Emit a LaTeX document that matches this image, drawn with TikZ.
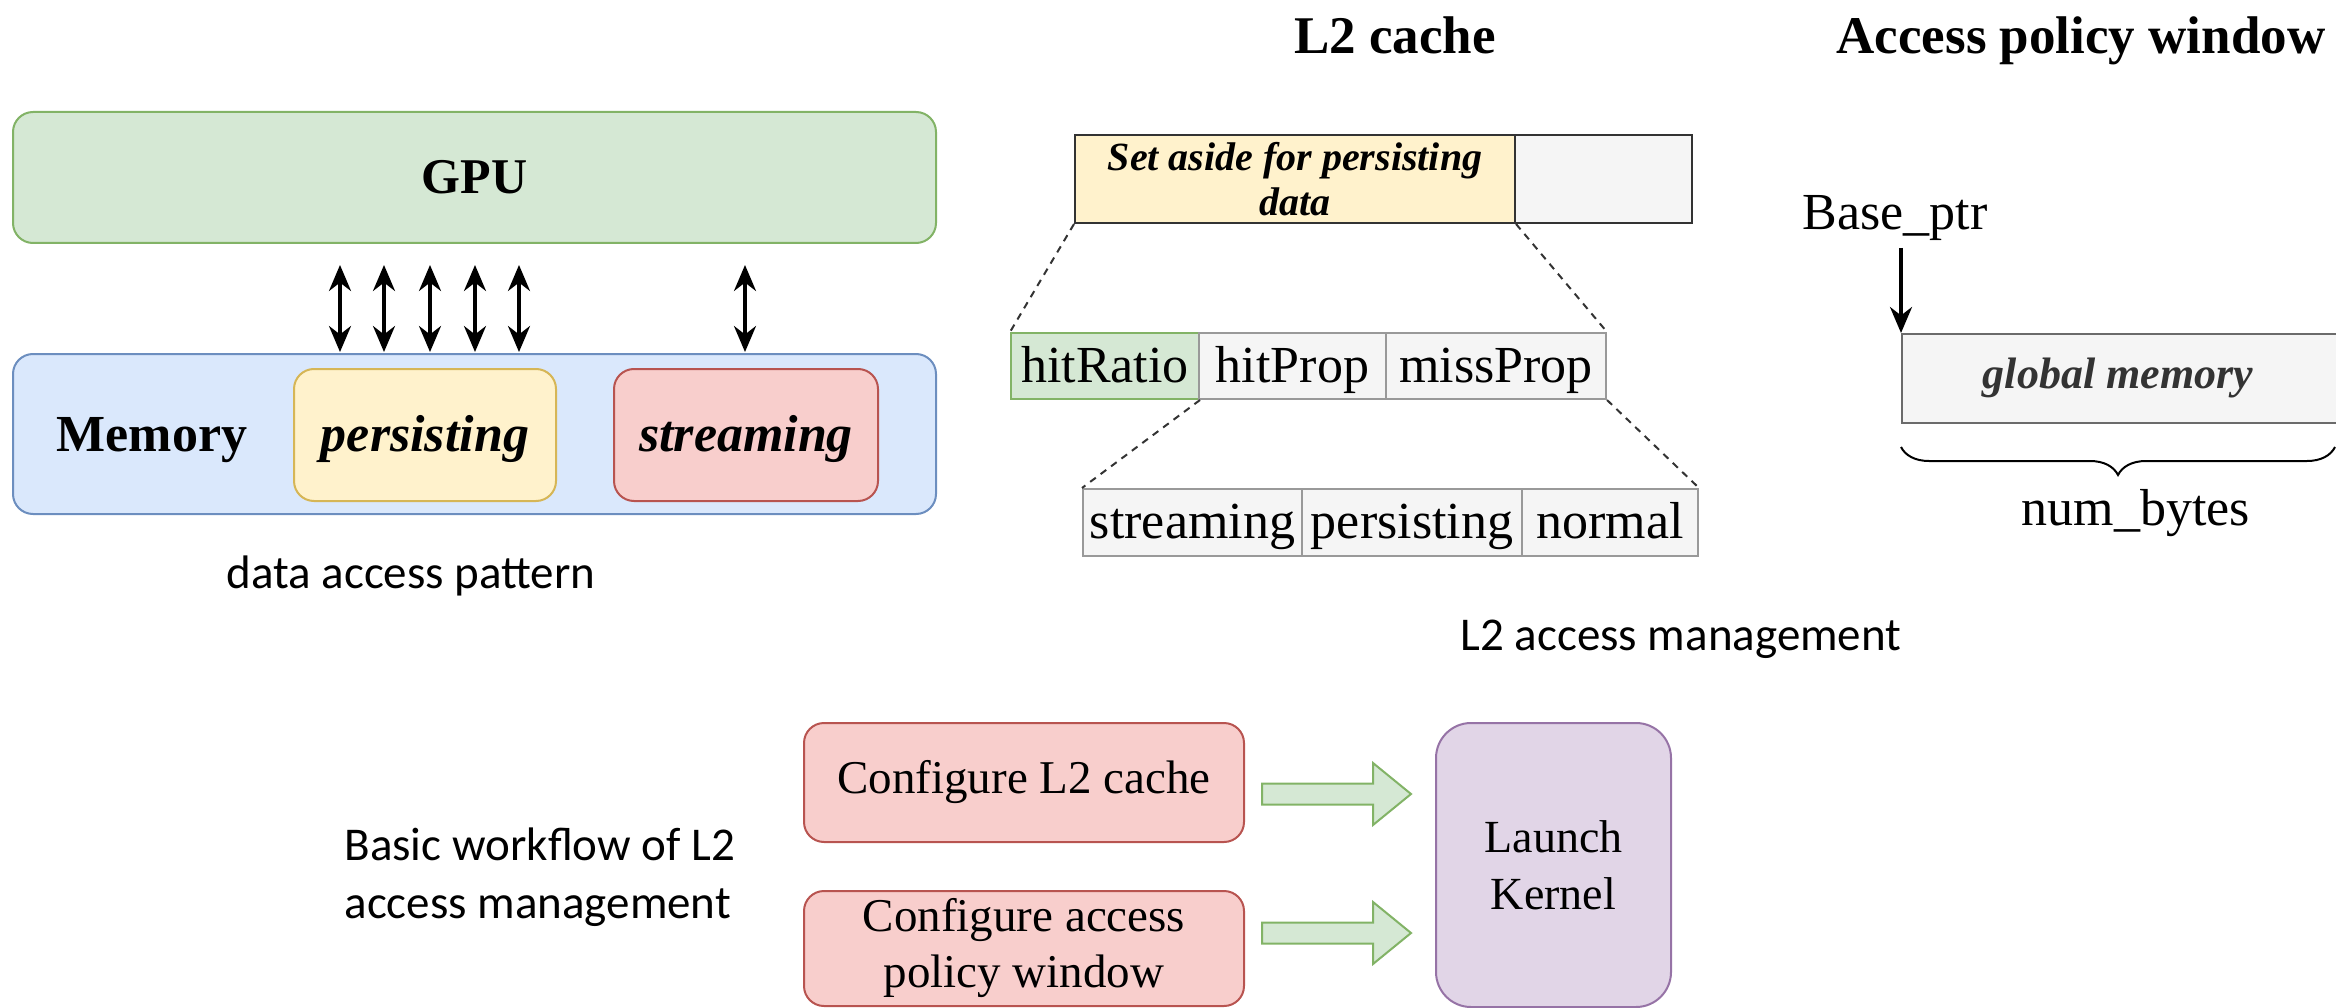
\documentclass[tikz,border=0pt]{standalone}
\usepackage{fontspec}
\setmainfont{Liberation Serif}
\newfontfamily\calibrifont{Carlito}
\usetikzlibrary{arrows.meta,decorations.pathreplacing,calc}
\definecolor{gpuFill}{HTML}{D5E8D4}\definecolor{gpuLine}{HTML}{82B366}
\definecolor{memFill}{HTML}{DAE8FC}\definecolor{memLine}{HTML}{6C8EBF}
\definecolor{yelFill}{HTML}{FFF2CC}\definecolor{yelLine}{HTML}{D6B656}
\definecolor{redFill}{HTML}{F8CECC}\definecolor{redLine}{HTML}{B85450}
\definecolor{purFill}{HTML}{E1D5E7}\definecolor{purLine}{HTML}{9673A6}
\definecolor{greyFill}{HTML}{F5F5F5}\definecolor{greyLine}{HTML}{999999}
\definecolor{darkLine}{HTML}{333333}
\begin{document}
\begin{tikzpicture}[x=1pt,y=-1pt,
  rbox/.style={draw, line width=2pt, rounded corners=20pt, inner sep=0pt, align=center},
  pbox/.style={draw, line width=2pt, rounded corners=20pt, inner sep=0pt,
    font=\bfseries\itshape\fontsize{52}{60}\selectfont, text height=32pt, text depth=0pt},
  cell/.style={draw=greyLine, fill=greyFill, line width=2pt, inner sep=0pt,
    font=\fontsize{52}{60}\selectfont, text height=32pt, text depth=0pt},
  dbl/.style={line width=3.5pt, {Stealth[length=26pt,width=22pt]}-{Stealth[length=26pt,width=22pt]}},
  dsh/.style={line width=2pt, draw=darkLine, dash pattern=on 7pt off 6pt},
  bigbold/.style={font=\bfseries\fontsize{53}{60}\selectfont},
  plain/.style={font=\fontsize{52}{60}\selectfont},
  caption/.style={font=\calibrifont\fontsize{47}{58}\selectfont},
  blockarrow/.style={draw=gpuLine, fill=gpuFill, line width=2pt, line join=miter}
]
\path[use as bounding box, clip] (0,0) rectangle (2336,1008);

% ---------------- data access pattern ----------------
\node[rbox, fill=gpuFill, draw=gpuLine, minimum width=923pt, minimum height=131pt,
      font=\bfseries\fontsize{50}{60}\selectfont] (gpu) at (474.5,177.5) {GPU};
\node[rbox, fill=memFill, draw=memLine, minimum width=923pt, minimum height=160pt] (mem) at (474.5,434) {};
\node[font=\bfseries\fontsize{52}{60}\selectfont, anchor=base] (memlabel) at (152,451) {Memory};
\node[pbox, fill=yelFill, draw=yelLine, minimum width=262pt, minimum height=132pt] (pers) at (425,435) {persisting};
\node[pbox, fill=redFill, draw=redLine, minimum width=264pt, minimum height=132pt] (strm) at (746,435) {streaming};
\foreach \i/\x in {1/340,2/384,3/430,4/475,5/519,6/745}{
  \coordinate (at\i) at (\x,265);
  \coordinate (ab\i) at (\x,352);
  \draw[dbl] (at\i) -- (ab\i);
}
\node[caption, anchor=base] (dap) at (411,588) {data access pattern};

% ---------------- L2 cache ----------------
\node[bigbold, anchor=base] (l2title) at (1395,54) {L2 cache};
\node[draw=darkLine, fill=yelFill, line width=2pt, inner sep=0pt, align=center,
      minimum width=440pt, minimum height=88pt,
      font=\bfseries\itshape\fontsize{40}{45}\selectfont] (setaside) at (1295,179) {Set aside for persisting\\data};
\node[draw=darkLine, fill=greyFill, line width=2pt, minimum width=177pt, minimum height=88pt] (rest) at (1603.5,179) {};

\node[cell, fill=gpuFill, draw=gpuLine, minimum width=188pt, minimum height=66pt] (hitratio) at (1105,366) {hitRatio};
\node[cell, minimum width=187pt, minimum height=66pt] (hitprop) at (1292.5,366) {hitProp};
\node[cell, minimum width=220pt, minimum height=66pt] (missprop) at (1496,366) {missProp};

\node[cell, minimum width=219pt, minimum height=67pt] (bstream) at (1192.5,522.5) {streaming};
\node[cell, minimum width=220pt, minimum height=67pt] (bpers) at (1412,522.5) {persisting};
\node[cell, minimum width=176pt, minimum height=67pt] (bnormal) at (1610,522.5) {normal};

\draw[dsh] (setaside.south west) -- (hitratio.north west);
\draw[dsh] (setaside.south east) -- (missprop.north east);
\draw[dsh] (hitratio.south east) -- (bstream.north west);
\draw[dsh] (missprop.south east) -- (bnormal.north east);

\node[caption, anchor=base] (l2am) at (1681,650) {L2 access management};

% ---------------- Access policy window ----------------
\node[bigbold, anchor=base] (aptitle) at (2081,54) {Access policy window};
\node[plain, anchor=base] (baseptr) at (1895,230) {Base\_ptr};
\node[draw=greyLine!70!black, fill=greyFill, line width=2pt, anchor=north west, inner sep=0pt,
      minimum width=480pt, minimum height=89pt] (gmem) at (1901,333) {};
\node[font=\bfseries\itshape\fontsize{44}{50}\selectfont, text=darkLine] (gmtext) at (2118,378) {global memory};
\coordinate (bpstart) at (1901,248);
\draw[line width=3.5pt, -{Stealth[length=26pt,width=22pt]}] (bpstart) -- (gmem.north west);
\coordinate (brl) at (1901,447);
\coordinate (brr) at (2335,447);
\draw[line width=2pt, decorate, decoration={brace, mirror, amplitude=28pt}] (brl) -- (brr);
\node[plain, anchor=base] (numbytes) at (2136,525) {num\_bytes};

% ---------------- workflow ----------------
\node[caption, anchor=west, align=left] (wf) at (341,877) {Basic workflow of L2\\access management};
\node[rbox, fill=redFill, draw=redLine, minimum width=440pt, minimum height=119pt,
      font=\fontsize{47}{56}\selectfont] (cfgl2) at (1024,782.5) {Configure L2 cache};
\node[rbox, fill=redFill, draw=redLine, minimum width=440pt, minimum height=115pt,
      font=\fontsize{47}{56}\selectfont] (cfgap) at (1024,948.5) {Configure access\\policy window};
\node[rbox, rounded corners=35pt, fill=purFill, draw=purLine, minimum width=235pt, minimum height=284pt,
      font=\fontsize{46}{57}\selectfont] (launch) at (1553.5,865) {Launch\\Kernel};

\coordinate (a1) at (1262,794);
\coordinate (a2) at (1262,933);
\foreach \c in {a1,a2}{
  \draw[blockarrow] ($(\c)+(0,-10.5)$) -- ++(111,0) -- ++(0,-20.5) -- ++(38,31) -- ++(-38,31)
     -- ++(0,-20.5) -- ++(-111,0) -- cycle;
}
\end{tikzpicture}
\end{document}
